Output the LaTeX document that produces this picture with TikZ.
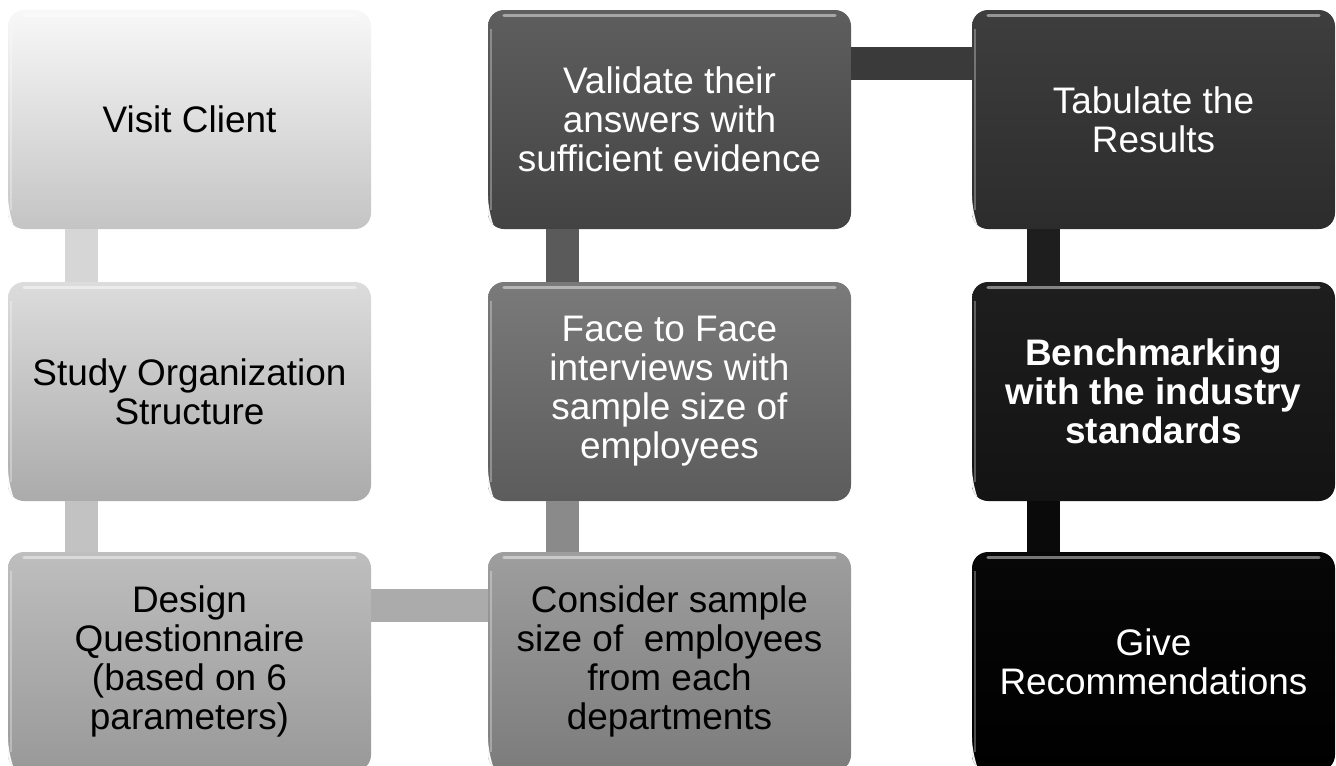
\documentclass[tikz,border=0pt]{standalone}
\usepackage{fontspec}
\setmainfont{Liberation Sans}
\definecolor{b1t}{HTML}{F8F8F8}\definecolor{b1b}{HTML}{C4C4C4}
\definecolor{b2t}{HTML}{DCDCDC}\definecolor{b2b}{HTML}{ABABAB}
\definecolor{b3t}{HTML}{BEBEBE}\definecolor{b3b}{HTML}{999999}
\definecolor{b4t}{HTML}{9E9E9E}\definecolor{b4b}{HTML}{7C7C7C}
\definecolor{b5t}{HTML}{7A7A7A}\definecolor{b5b}{HTML}{5C5C5C}
\definecolor{b6t}{HTML}{5E5E5E}\definecolor{b6b}{HTML}{434343}
\definecolor{b7t}{HTML}{3E3E3E}\definecolor{b7b}{HTML}{2C2C2C}
\definecolor{b8t}{HTML}{1E1E1E}\definecolor{b8b}{HTML}{131313}
\definecolor{b9t}{HTML}{070707}\definecolor{b9b}{HTML}{000000}
\definecolor{k1}{HTML}{D6D6D6}\definecolor{k2}{HTML}{C2C2C2}
\definecolor{k3}{HTML}{ABABAB}\definecolor{k4}{HTML}{8A8A8A}
\definecolor{k5}{HTML}{5A5A5A}\definecolor{k6}{HTML}{3A3A3A}
\definecolor{k7}{HTML}{1E1E1E}\definecolor{k8}{HTML}{0A0A0A}
\begin{document}
\begin{tikzpicture}[x=0.75pt,y=-0.75pt,
  stepbox/.style={rectangle, rounded corners=12pt, minimum width=272.25pt,
    minimum height=164.25pt, inner sep=0pt, align=center,
    font=\fontsize{27.7}{29.3}\selectfont,
    path picture={
      \draw[white, opacity=0.45, line width=2.5pt, line cap=round]
        ([xshift=12pt,yshift=-4pt]path picture bounding box.north west) --
        ([xshift=-12pt,yshift=-4pt]path picture bounding box.north east);
      \draw[white, opacity=0.3, line width=1.5pt]
        ([xshift=2.5pt,yshift=-14pt]path picture bounding box.north west) --
        ([xshift=2.5pt,yshift=14pt]path picture bounding box.south west);
      \fill[white, opacity=0.95]
        ([shift={(0pt,13pt)}]path picture bounding box.south west) .. controls
        ([shift={(0pt,0pt)}]path picture bounding box.south west) ..
        ([shift={(12pt,0pt)}]path picture bounding box.south west) .. controls
        ([shift={(4pt,3pt)}]path picture bounding box.south west) ..
        ([shift={(0pt,13pt)}]path picture bounding box.south west) -- cycle;
    }},
  lighttext/.style={text=black},
  darktext/.style={text=white},
  conn/.style={line width=24.75pt}]
\useasboundingbox (0,0) rectangle (1336,765);

\node[stepbox, lighttext, top color=b1t, bottom color=b1b] (visit) at (189.5,119.5) {Visit Client};
\node[stepbox, lighttext, top color=b2t, bottom color=b2b] (study) at (189.5,391.5) {Study Organization\\Structure};
\node[stepbox, lighttext, top color=b3t, bottom color=b3b] (design) at (189.5,661.5) {Design\\Questionnaire\\(based on 6\\parameters)};
\node[stepbox, lighttext, top color=b4t, bottom color=b4b] (consider) at (669.5,661.5) {Consider sample\\size of \ employees\\from each\\departments};
\node[stepbox, darktext, top color=b5t, bottom color=b5b] (face) at (669.5,391.5) {Face to Face\\interviews with\\sample size of\\employees};
\node[stepbox, darktext, top color=b6t, bottom color=b6b] (validate) at (669.5,119.5) {Validate their\\answers with\\sufficient evidence};
\node[stepbox, darktext, top color=b7t, bottom color=b7b] (tabulate) at (1153.5,119.5) {Tabulate the\\Results};
\node[stepbox, darktext, top color=b8t, bottom color=b8b, font=\fontsize{27.7}{29.3}\selectfont\bfseries] (bench) at (1153.5,391.5) {Benchmarking\\with the industry\\standards};
\node[stepbox, darktext, top color=b9t, bottom color=b9b] (give) at (1153.5,661.5) {Give\\Recommendations};

\draw[conn, k1] ([xshift=55pt]visit.south west) -- ([xshift=55pt]study.north west);
\draw[conn, k2] ([xshift=55pt]study.south west) -- ([xshift=55pt]design.north west);
\draw[conn, k3] ([yshift=-40pt]design.north east) -- ([yshift=-40pt]consider.north west);
\draw[conn, k4] ([xshift=56pt]consider.north west) -- ([xshift=56pt]face.south west);
\draw[conn, k5] ([xshift=56pt]face.north west) -- ([xshift=56pt]validate.south west);
\draw[conn, k6] ([yshift=-40pt]validate.north east) -- ([yshift=-40pt]tabulate.north west);
\draw[conn, k7] ([xshift=54pt]tabulate.south west) -- ([xshift=54pt]bench.north west);
\draw[conn, k8] ([xshift=54pt]bench.south west) -- ([xshift=54pt]give.north west);
\end{tikzpicture}
\end{document}
